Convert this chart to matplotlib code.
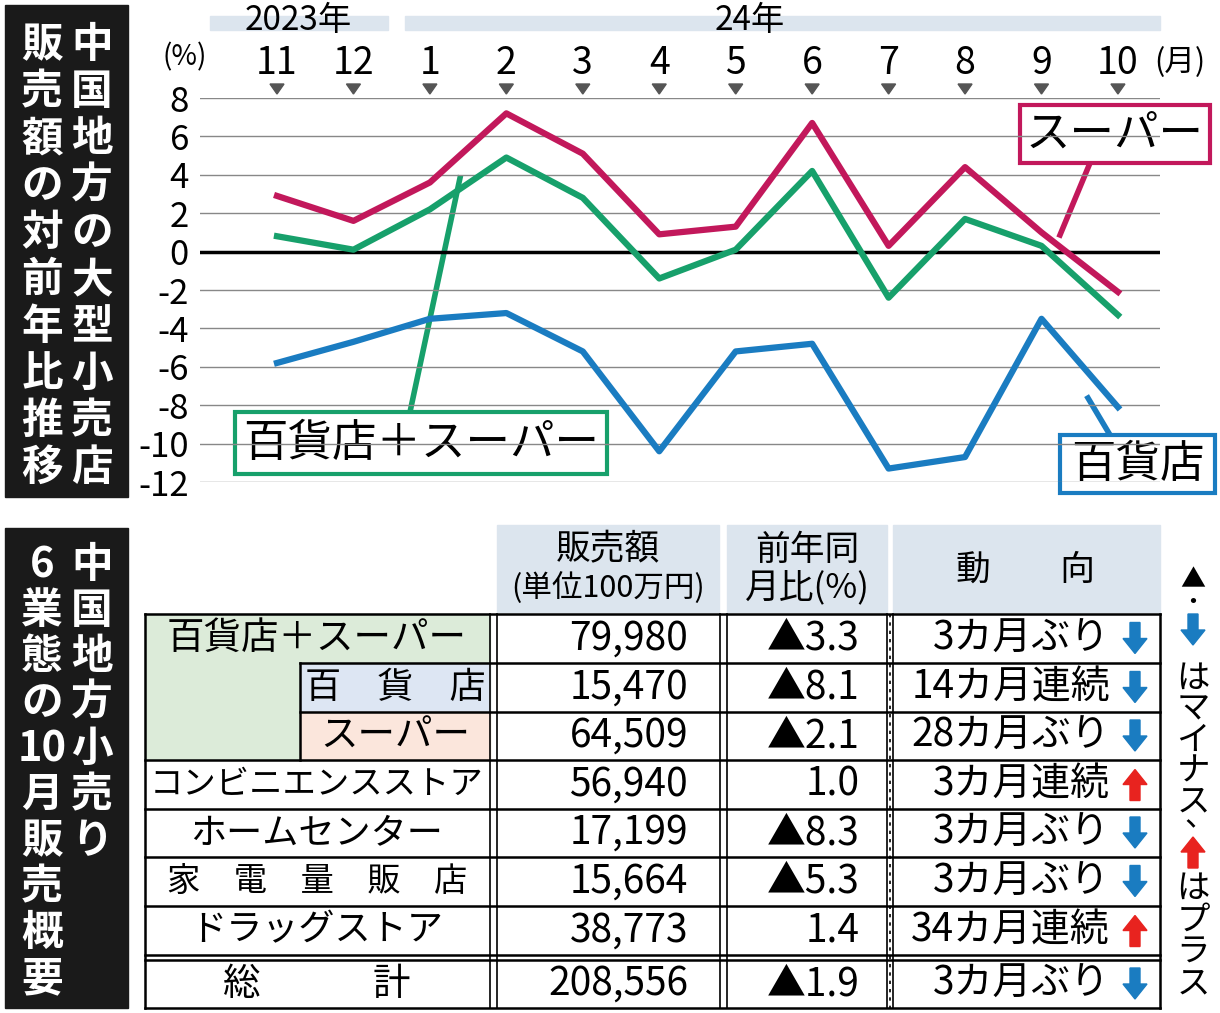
import matplotlib
matplotlib.use("Agg")
import matplotlib.pyplot as plt
from matplotlib.patches import Rectangle, Polygon

plt.rcParams["font.family"] = "Noto Sans CJK JP"

months = ["11", "12", "1", "2", "3", "4", "5", "6", "7", "8", "9", "10"]
super_v = [2.9, 1.6, 3.6, 7.2, 5.1, 0.9, 1.3, 6.7, 0.3, 4.4, 1.0, -2.1]
combo_v = [0.8, 0.1, 2.2, 4.9, 2.8, -1.4, 0.1, 4.2, -2.4, 1.7, 0.3, -3.3]
dept_v = [-5.8, -4.7, -3.5, -3.2, -5.2, -10.4, -5.2, -4.8, -11.3, -10.7, -3.5, -8.1]
yticks = list(range(8, -13, -2))

t_names = ["百貨店＋スーパー", "百　貨　店", "スーパー", "コンビニエンスストア", "ホームセンター",
           "家　電　量　販　店", "ドラッグストア", "総　　　計"]
t_sales = ["79,980", "15,470", "64,509", "56,940", "17,199", "15,664", "38,773", "208,556"]
t_yoy = ["▲3.3", "▲8.1", "▲2.1", "1.0", "▲8.3", "▲5.3", "1.4", "▲1.9"]
t_trend = ["3カ月ぶり", "14カ月連続", "28カ月ぶり", "3カ月連続", "3カ月ぶり", "3カ月ぶり", "34カ月連続", "3カ月ぶり"]
t_dir = ["down", "down", "down", "up", "down", "down", "up", "down"]

W, H = 1220, 1013
fig = plt.figure(figsize=(12.2, 10.13), dpi=100)
ax0 = fig.add_axes([0, 0, 1, 1])
ax0.set_xlim(0, W); ax0.set_ylim(H, 0); ax0.axis("off")

MAG, GRN, BLU = "#c2185b", "#17a06b", "#1a7cc1"

# line chart
x0p, x1p, y0p, y1p = 200, 1160, 98, 482
step = 76.45
ax = fig.add_axes([x0p / W, 1 - y1p / H, (x1p - x0p) / W, (y1p - y0p) / H])
ax.set_xlim((x0p - 277) / step, (x1p - 277) / step)
ax.set_ylim(-12, 8)
for s in ax.spines.values():
    s.set_visible(False)
ax.set_xticks([])
ax.set_yticks(yticks)
ax.set_yticklabels([str(v) for v in yticks], fontsize=25)
ax.tick_params(axis="y", length=0, pad=8)
for v in yticks:
    ax.axhline(v, color="black" if v == 0 else "#888888", lw=2.5 if v == 0 else 1, zorder=1)
xs = list(range(len(months)))
ax.plot(xs, super_v, color=MAG, lw=4.5, zorder=3)
ax.plot(xs, combo_v, color=GRN, lw=4.5, zorder=3)
ax.plot(xs, dept_v, color=BLU, lw=4.5, zorder=3)
ax.patch.set_alpha(0)

for i, m in enumerate(months):
    px = 277 + step * i
    ax0.text(px, 63, m, fontsize=27, ha="center", va="center")
    ax0.add_patch(Polygon([[px - 7, 84], [px + 7, 84], [px, 94]], color="#555555"))
ax0.text(185, 57, "(%)", fontsize=20, ha="center", va="center")
ax0.text(1180, 63, "(月)", fontsize=22, ha="center", va="center")
ax0.add_patch(Rectangle((210, 16), 178, 14, color="#dce5ee"))
ax0.add_patch(Rectangle((405, 16), 755, 14, color="#dce5ee"))
ax0.text(298, 20, "2023年", fontsize=24, ha="center", va="center")
ax0.text(750, 20, "24年", fontsize=24, ha="center", va="center")

def label_box(x, y, w, h, txt, col, tail):
    ax0.add_patch(Rectangle((x, y), w, h, fc="white", ec=col, lw=3, zorder=5))
    ax0.text(x + w / 2, y + h / 2, txt, fontsize=32, ha="center", va="center", zorder=6)
    ax0.plot(tail[0], tail[1], color=col, lw=4, zorder=4)

label_box(1020, 105, 190, 58, "スーパー", MAG, ([1090, 1060], [163, 235]))
label_box(235, 412, 372, 62, "百貨店＋スーパー", GRN, ([410, 460], [412, 178]))
label_box(1060, 435, 155, 58, "百貨店", BLU, ([1110, 1088], [435, 398]))

# title boxes
def vtext(x, y, s, dy, fs=30):
    for i, tok in enumerate(s):
        ax0.text(x, y + dy * i, tok, fontsize=fs, color="white", ha="center", va="center", fontweight="bold")

ax0.add_patch(Rectangle((5, 5), 123, 492, color="#1a1a1a"))
vtext(92, 45, "中国地方の大型小売店", 47)
vtext(42, 45, "販売額の対前年比推移", 47)
ax0.add_patch(Rectangle((5, 528), 123, 480, color="#1a1a1a"))
vtext(92, 565, "中国地方小売り", 46)
vtext(42, 565, ["6", "業", "態", "の", "10", "月", "販", "売", "概", "要"], 46)

# table
def arrow(x, y, d, col):
    if d == "down":
        pts = [[x - 5, y - 16], [x + 5, y - 16], [x + 5, y], [x + 12, y], [x, y + 15], [x - 12, y], [x - 5, y]]
    else:
        pts = [[x - 5, y + 16], [x + 5, y + 16], [x + 5, y], [x + 12, y], [x, y - 15], [x - 12, y], [x - 5, y]]
    ax0.add_patch(Polygon(pts, color=col, zorder=5))

hdr = "#dce5ee"
ax0.add_patch(Rectangle((497, 525), 222, 87, color=hdr))
ax0.add_patch(Rectangle((727, 525), 160, 87, color=hdr))
ax0.add_patch(Rectangle((893, 525), 267, 87, color=hdr))
ax0.text(608, 550, "販売額", fontsize=25, ha="center", va="center")
ax0.text(608, 588, "(単位100万円)", fontsize=22, ha="center", va="center")
ax0.text(807, 550, "前年同", fontsize=25, ha="center", va="center")
ax0.text(807, 588, "月比(%)", fontsize=25, ha="center", va="center")
ax0.text(1026, 570, "動　　向", fontsize=25, ha="center", va="center")

rows_top = [614, 663, 712, 760, 809, 857, 906, 960]
rows_bot = [663, 712, 760, 809, 857, 906, 955, 1008]
ax0.add_patch(Rectangle((145, 614), 345, 146, color="#dcebd9"))
ax0.add_patch(Rectangle((300, 663), 190, 49, color="#dde6f3"))
ax0.add_patch(Rectangle((300, 712), 190, 48, color="#fbe6dc"))
name_fs = [27, 26, 27, 24, 26, 24, 26, 27]
for i in range(8):
    t, b = rows_top[i], rows_bot[i]
    c = (t + b) / 2
    nx = 395 if i in (1, 2) else 317
    ax0.text(nx, c, t_names[i], fontsize=name_fs[i], ha="center", va="center")
    ax0.text(688, c, t_sales[i], fontsize=28, ha="right", va="center")
    ax0.text(860, c, t_yoy[i], fontsize=28, ha="right", va="center")
    ax0.text(1110, c, t_trend[i], fontsize=28, ha="right", va="center")
    arrow(1135, c, t_dir[i], BLU if t_dir[i] == "down" else "#e8231f")
L = dict(color="black", lw=1.8)
ax0.plot([145, 1160], [614, 614], **L)
for b in rows_bot[:7]:
    x_start = 300 if b in (663, 712) else 145
    ax0.plot([x_start, 1160], [b, b], **L)
ax0.plot([145, 1160], [960, 960], **L)
ax0.plot([145, 1160], [1008, 1008], **L)
ax0.plot([145, 145], [614, 1008], **L)
ax0.plot([1160, 1160], [614, 1008], **L)
ax0.plot([300, 300], [663, 760], **L)
for xv in (490, 497, 720, 727, 887, 893):
    ax0.plot([xv, xv], [614, 1008], color="black", lw=1.2)
ax0.plot([890, 890], [614, 1008], color="black", lw=1.2, ls=(0, (2, 3)))

# side note
ax0.text(1193, 580, "▲", fontsize=18, ha="center", va="center")
ax0.text(1193, 603, "・", fontsize=18, ha="center", va="center")
arrow(1193, 630, "down", BLU)
for i, ch in enumerate("はマイナス"):
    ax0.text(1193, 678 + 31 * i, ch, fontsize=24, ha="center", va="center")
ax0.text(1200, 818, "、", fontsize=22, ha="center", va="center")
arrow(1193, 852, "up", "#e8231f")
for i, ch in enumerate("はプラス"):
    ax0.text(1193, 888 + 32 * i, ch, fontsize=24, ha="center", va="center")

fig.savefig("out.png", dpi=100)
